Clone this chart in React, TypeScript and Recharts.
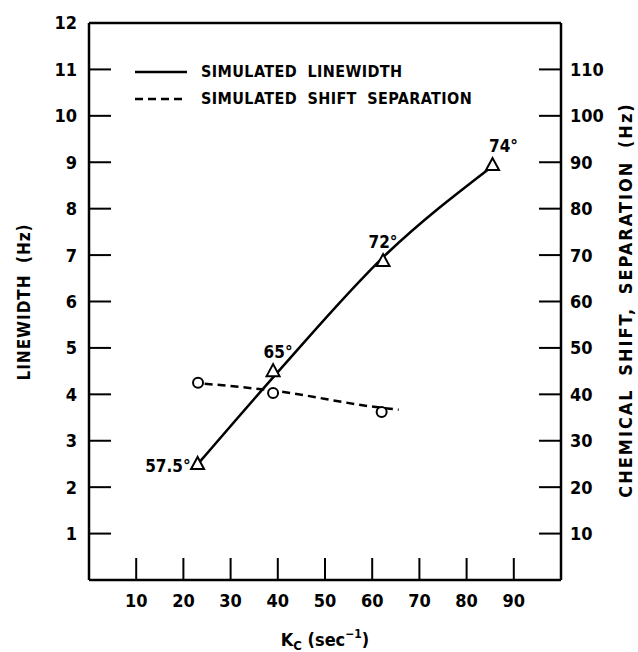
import {
  ComposedChart,
  Line,
  Scatter,
  XAxis,
  YAxis,
} from "recharts";

// temperatures / rate constants
const kcPoints = [23, 39, 62.3, 85.5];
const linewidth = [2.5, 4.5, 6.87, 8.94];
const angleLabels = ["57.5°", "65°", "72°", "74°"];

// drawn curve through the linewidth points
const linewidthCurveKc = [23.5, 40, 63.3, 84.5];
const linewidthCurve = [2.55, 4.48, 7.05, 8.84];

// shift separation (right axis, Hz)
const shiftKc = [23.1, 39, 62];
const shiftSep = [42.5, 40.3, 36.2];
const shiftCurveKc = [24.5, 39, 62, 65.6];
const shiftCurve = [42.3, 40.8, 37.1, 36.7];

const xTicks = [10, 20, 30, 40, 50, 60, 70, 80, 90];
const leftTicks = [1, 2, 3, 4, 5, 6, 7, 8, 9, 10, 11, 12];
const rightTicks = [10, 20, 30, 40, 50, 60, 70, 80, 90, 100, 110];

const FONT = '"DejaVu Sans Condensed", "Liberation Sans Narrow", "DejaVu Sans", sans-serif';
const M = 12;
const TICK = 22;

const triangleData = kcPoints.map((x, i) => ({ x, y: linewidth[i], label: angleLabels[i], idx: i }));
const lwCurveData = linewidthCurveKc.map((x, i) => ({ x, y: linewidthCurve[i] }));
const shiftData = shiftKc.map((x, i) => ({ x, y: shiftSep[i] }));
const shiftCurveData = shiftCurveKc.map((x, i) => ({ x, y: shiftCurve[i] }));

const labelDx = [0, 5, 0, 11];

function Triangle(props: any) {
  const { cx, cy, payload } = props;
  if (cx == null || cy == null) return null;
  const i = payload.idx;
  const first = i === 0;
  return (
    <g>
      <polygon
        points={`${cx},${cy - 7} ${cx - 6.5},${cy + 5} ${cx + 6.5},${cy + 5}`}
        fill="#fff"
        stroke="#000"
        strokeWidth={2}
      />
      <text
        x={first ? cx - 7 : cx + labelDx[i]}
        y={first ? cy + 8 : cy - 13}
        textAnchor={first ? "end" : "middle"}
        fontFamily={FONT}
        fontSize={17}
        fontWeight={600}
        fill="#000"
      >
        {payload.label}
      </text>
    </g>
  );
}

function Circle(props: any) {
  const { cx, cy } = props;
  if (cx == null || cy == null) return null;
  return <circle cx={cx} cy={cy} r={5} fill="#fff" stroke="#000" strokeWidth={2} />;
}

const tickText = { fontFamily: FONT, fontSize: 18, fontWeight: 600, fill: "#000" } as const;

const BottomTick = (p: any) => (
  <g>
    <line x1={p.x} x2={p.x} y1={p.y - M} y2={p.y - M - TICK} stroke="#000" strokeWidth={2} />
    <text x={p.x} y={p.y} dy="0.85em" textAnchor="middle" {...tickText}>
      {p.payload.value}
    </text>
  </g>
);

const TopTick = (p: any) => (
  <line x1={p.x} x2={p.x} y1={p.y + M} y2={p.y + M + TICK} stroke="#000" strokeWidth={2} />
);

const LeftTick = (p: any) => (
  <g>
    <line x1={p.x + M} x2={p.x + M + TICK} y1={p.y} y2={p.y} stroke="#000" strokeWidth={2} />
    <text x={p.x} y={p.y} dy="0.36em" textAnchor="end" {...tickText}>
      {p.payload.value}
    </text>
  </g>
);

const RightTick = (p: any) => (
  <g>
    <line x1={p.x - M} x2={p.x - M - TICK} y1={p.y} y2={p.y} stroke="#000" strokeWidth={2} />
    <text x={p.x - 3} y={p.y} dy="0.36em" textAnchor="start" {...tickText}>
      {p.payload.value}
    </text>
  </g>
);

function LegendBox() {
  const row = (dash: string | undefined, text: string) => (
    <div style={{ display: "flex", alignItems: "center", height: 27 }}>
      <svg width={56} height={10} style={{ marginRight: 12 }}>
        <line x1={2} x2={54} y1={5} y2={5} stroke="#000" strokeWidth={2.5} strokeDasharray={dash} />
      </svg>
      <span style={{ fontFamily: FONT, fontSize: 16, fontWeight: 600, letterSpacing: 0.4, wordSpacing: 5, color: "#000" }}>
        {text}
      </span>
    </div>
  );
  return (
    <div style={{ position: "absolute", left: 133, top: 58, width: 400 }}>
      {row(undefined, "SIMULATED LINEWIDTH")}
      {row("8 5", "SIMULATED SHIFT SEPARATION")}
    </div>
  );
}

export default function App() {
  return (
    <div style={{ position: "absolute", left: 0, top: 0, width: 638, height: 652, background: "#fff" }}>
      <ComposedChart
        width={638}
        height={652}
        margin={{ top: 22, right: 27, bottom: 32, left: 39 }}
      >
        <XAxis
          xAxisId="bottom"
          dataKey="x"
          type="number"
          domain={[0, 100]}
          ticks={xTicks}
          height={40}
          tickSize={0}
          tickMargin={M}
          tickLine={false}
          axisLine={{ stroke: "#000", strokeWidth: 2.5 }}
          tick={BottomTick}
          label={{
            content: () => (
              <text x={325} y={646} textAnchor="middle" fontFamily={FONT} fontSize={18} fontWeight={600} fill="#000">
                K
                <tspan fontSize={13} dy={4}>C</tspan>
                <tspan dy={-4}> (sec</tspan>
                <tspan fontSize={12} dy={-8}>−1</tspan>
                <tspan dy={8}>)</tspan>
              </text>
            ),
          }}
        />
        <XAxis
          xAxisId="top"
          orientation="top"
          dataKey="x"
          type="number"
          domain={[0, 100]}
          ticks={xTicks}
          height={1}
          tickSize={0}
          tickMargin={M}
          tickLine={false}
          axisLine={{ stroke: "#000", strokeWidth: 2.5 }}
          tick={TopTick}
        />
        <YAxis
          yAxisId="left"
          type="number"
          domain={[0, 12]}
          ticks={leftTicks}
          width={50}
          tickSize={0}
          tickMargin={M}
          tickLine={false}
          axisLine={{ stroke: "#000", strokeWidth: 2.5 }}
          tick={LeftTick}
          label={{
            content: () => (
              <text
                x={25}
                y={302}
                transform="rotate(-90 25 302)"
                textAnchor="middle"
                dominantBaseline="middle"
                fontFamily={FONT}
                fontSize={17}
                fontWeight={600}
                letterSpacing={1}
                wordSpacing={5}
                fill="#000"
              >
                LINEWIDTH (Hz)
              </text>
            ),
          }}
        />
        <YAxis
          yAxisId="right"
          orientation="right"
          type="number"
          domain={[0, 120]}
          ticks={rightTicks}
          width={50}
          tickSize={0}
          tickMargin={M}
          tickLine={false}
          axisLine={{ stroke: "#000", strokeWidth: 2.5 }}
          tick={RightTick}
          label={{
            content: () => (
              <text
                x={627}
                y={300}
                transform="rotate(-90 627 300)"
                textAnchor="middle"
                dominantBaseline="middle"
                fontFamily={FONT}
                fontSize={18}
                fontWeight={600}
                letterSpacing={2}
                wordSpacing={5}
                fill="#000"
              >
                CHEMICAL SHIFT, SEPARATION (Hz)
              </text>
            ),
          }}
        />
        <Line
          xAxisId="bottom"
          yAxisId="left"
          data={lwCurveData}
          dataKey="y"
          type="monotone"
          stroke="#000"
          strokeWidth={2.5}
          dot={false}
          activeDot={false}
          isAnimationActive={false}
        />
        <Line
          xAxisId="bottom"
          yAxisId="right"
          data={shiftCurveData}
          dataKey="y"
          type="monotone"
          stroke="#000"
          strokeWidth={2.5}
          strokeDasharray="8 5"
          dot={false}
          activeDot={false}
          isAnimationActive={false}
        />
        <Scatter
          xAxisId="bottom"
          yAxisId="left"
          data={triangleData}
          dataKey="y"
          shape={Triangle}
          isAnimationActive={false}
        />
        <Scatter
          xAxisId="bottom"
          yAxisId="right"
          data={shiftData}
          dataKey="y"
          shape={Circle}
          isAnimationActive={false}
        />
      </ComposedChart>
      <LegendBox />
    </div>
  );
}
